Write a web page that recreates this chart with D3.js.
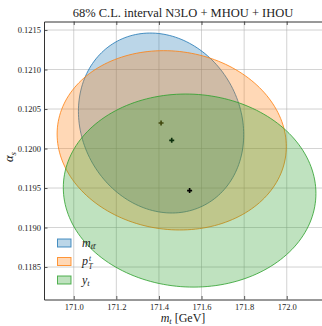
<!DOCTYPE html>
<html>
<head>
<meta charset="utf-8">
<script src="https://cdn.jsdelivr.net/npm/d3@7"></script>
<style>
  body { margin: 0; background: #fff; }
  svg { display: block; font-family: "Liberation Serif", "DejaVu Serif", serif; }
</style>
</head>
<body>
<div id="chart"></div>
<script>
// fit results: central values, 1-sigma widths and correlation
const names = ['mtt', 'ptt', 'yt'];
const colors = ['#1f77b4', '#ff7f0e', '#2ca02c'];
const centreMt = [171.41, 171.46, 171.544];
const centreAs = [0.120323, 0.120104, 0.119468];
const sigmaMt = [0.388, 0.538, 0.593];
const sigmaAs = [0.001139, 0.001135, 0.001222];
const rho = [-0.13, -0.07, -0.03];

const xTicks = [171.0, 171.2, 171.4, 171.6, 171.8, 172.0];
const yTicks = [0.1185, 0.1190, 0.1195, 0.1200, 0.1205, 0.1210, 0.1215];

const width = 322, height = 326;
const margin = {left: 44, right: -4, top: 21.5, bottom: 26.5};

const svg = d3.select('#chart').append('svg')
  .attr('width', width)
  .attr('height', height);

const x = d3.scaleLinear()
  .domain([170.8604, 172.1843])
  .range([margin.left, width - margin.right]);
const y = d3.scaleLinear()
  .domain([0.118089, 0.121608])
  .range([height - margin.bottom, margin.top]);

svg.append('clipPath').attr('id', 'clip')
  .append('rect')
  .attr('x', margin.left).attr('y', margin.top)
  .attr('width', width - margin.right - margin.left)
  .attr('height', height - margin.bottom - margin.top);

// grid
const grid = svg.append('g');
grid.selectAll('.gx').data(xTicks).enter().append('line')
  .attr('x1', d => x(d)).attr('x2', d => x(d))
  .attr('y1', margin.top).attr('y2', height - margin.bottom)
  .attr('stroke', '#b0b0b0').attr('stroke-width', 0.8).attr('opacity', 0.7);
grid.selectAll('.gy').data(yTicks).enter().append('line')
  .attr('y1', d => y(d)).attr('y2', d => y(d))
  .attr('x1', margin.left).attr('x2', width - margin.right)
  .attr('stroke', '#b0b0b0').attr('stroke-width', 0.8).attr('opacity', 0.7);

// ellipses
const steps = d3.range(0, 181).map(i => i / 180 * 2 * Math.PI);
const line = d3.line().curve(d3.curveLinearClosed);
const plot = svg.append('g').attr('clip-path', 'url(#clip)');

names.forEach((n, i) => {
  const r = rho[i];
  const pts = steps.map(t => [
    x(centreMt[i] + sigmaMt[i] * Math.cos(t)),
    y(centreAs[i] + sigmaAs[i] * (r * Math.cos(t) + Math.sqrt(1 - r * r) * Math.sin(t)))
  ]);
  plot.append('path')
    .attr('d', line(pts))
    .attr('fill', colors[i]).attr('fill-opacity', 0.3)
    .attr('stroke', colors[i]).attr('stroke-opacity', 0.8).attr('stroke-width', 1);
  plot.append('path')
    .attr('d', d3.symbol().type(d3.symbolCross).size(14)())
    .attr('transform', `translate(${x(centreMt[i])},${y(centreAs[i])})`)
    .attr('fill', '#000');
});

// axes, ticks inward
const xAxis = svg.append('g').attr('transform', `translate(0,${height - margin.bottom})`)
  .call(d3.axisBottom(x).tickValues(xTicks).tickFormat(d3.format('.1f')).tickSizeInner(-3.5).tickSizeOuter(0).tickPadding(4));
const xAxisTop = svg.append('g').attr('transform', `translate(0,${margin.top})`)
  .call(d3.axisTop(x).tickValues(xTicks).tickFormat('').tickSizeInner(-3.5).tickSizeOuter(0));
const yAxis = svg.append('g').attr('transform', `translate(${margin.left},0)`)
  .call(d3.axisLeft(y).tickValues(yTicks).tickFormat(d3.format('.4f')).tickSizeInner(-3.5).tickSizeOuter(0).tickPadding(3));

[xAxis, xAxisTop, yAxis].forEach(a => {
  a.selectAll('path').attr('stroke', '#333').attr('stroke-width', 1);
  a.selectAll('line').attr('stroke', '#333').attr('stroke-width', 0.8);
  a.selectAll('text').attr('font-family', '"Liberation Serif", serif').attr('font-size', 8.5).attr('fill', '#222');
});

// title and axis labels
svg.append('text')
  .attr('x', 183).attr('y', 16.5)
  .attr('text-anchor', 'middle')
  .attr('font-size', 12.5)
  .attr('fill', '#222')
  .text('68% C.L. interval N3LO + MHOU + IHOU');

const xl = svg.append('text')
  .attr('x', 183).attr('y', 321.5)
  .attr('text-anchor', 'middle')
  .attr('font-size', 12)
  .attr('fill', '#222');
xl.append('tspan').attr('font-style', 'italic').text('m');
xl.append('tspan').attr('font-style', 'italic').attr('font-size', 8.5).attr('dy', 2).text('t');
xl.append('tspan').attr('dy', -2).text(' [GeV]');

const yl = svg.append('text')
  .attr('transform', 'translate(13,157) rotate(-90)')
  .attr('text-anchor', 'middle')
  .attr('font-size', 12.5)
  .attr('fill', '#222');
yl.append('tspan').attr('font-style', 'italic').text('α');
yl.append('tspan').attr('font-style', 'italic').attr('font-size', 9).attr('dy', 2.5).text('s');

// legend
const leg = svg.append('g');
names.forEach((n, i) => {
  const ly = 239 + i * 18.5;
  leg.append('rect')
    .attr('x', 57.5).attr('y', ly).attr('width', 13.5).attr('height', 8)
    .attr('fill', colors[i]).attr('fill-opacity', 0.3)
    .attr('stroke', colors[i]).attr('stroke-opacity', 0.8).attr('stroke-width', 1);
  const t = leg.append('text')
    .attr('x', 82).attr('y', ly + 7.5)
    .attr('font-size', 12).attr('font-style', 'italic').attr('fill', '#222');
  if (n === 'mtt') {
    t.append('tspan').text('m');
    t.append('tspan').attr('font-size', 8.5).attr('dy', 2.5).text('tt\u0304');
  } else if (n === 'ptt') {
    t.append('tspan').text('p');
    leg.append('text')
      .attr('x', 89).attr('y', ly + 3)
      .attr('font-size', 7.5).attr('font-style', 'italic').attr('fill', '#222')
      .text('t');
    leg.append('text')
      .attr('x', 88.5).attr('y', ly + 11)
      .attr('font-size', 7.5).attr('font-style', 'italic').attr('fill', '#222')
      .text('T');
  } else {
    t.append('tspan').text('y');
    t.append('tspan').attr('font-size', 8.5).attr('dy', 2.5).text('t');
  }
});
</script>
</body>
</html>
